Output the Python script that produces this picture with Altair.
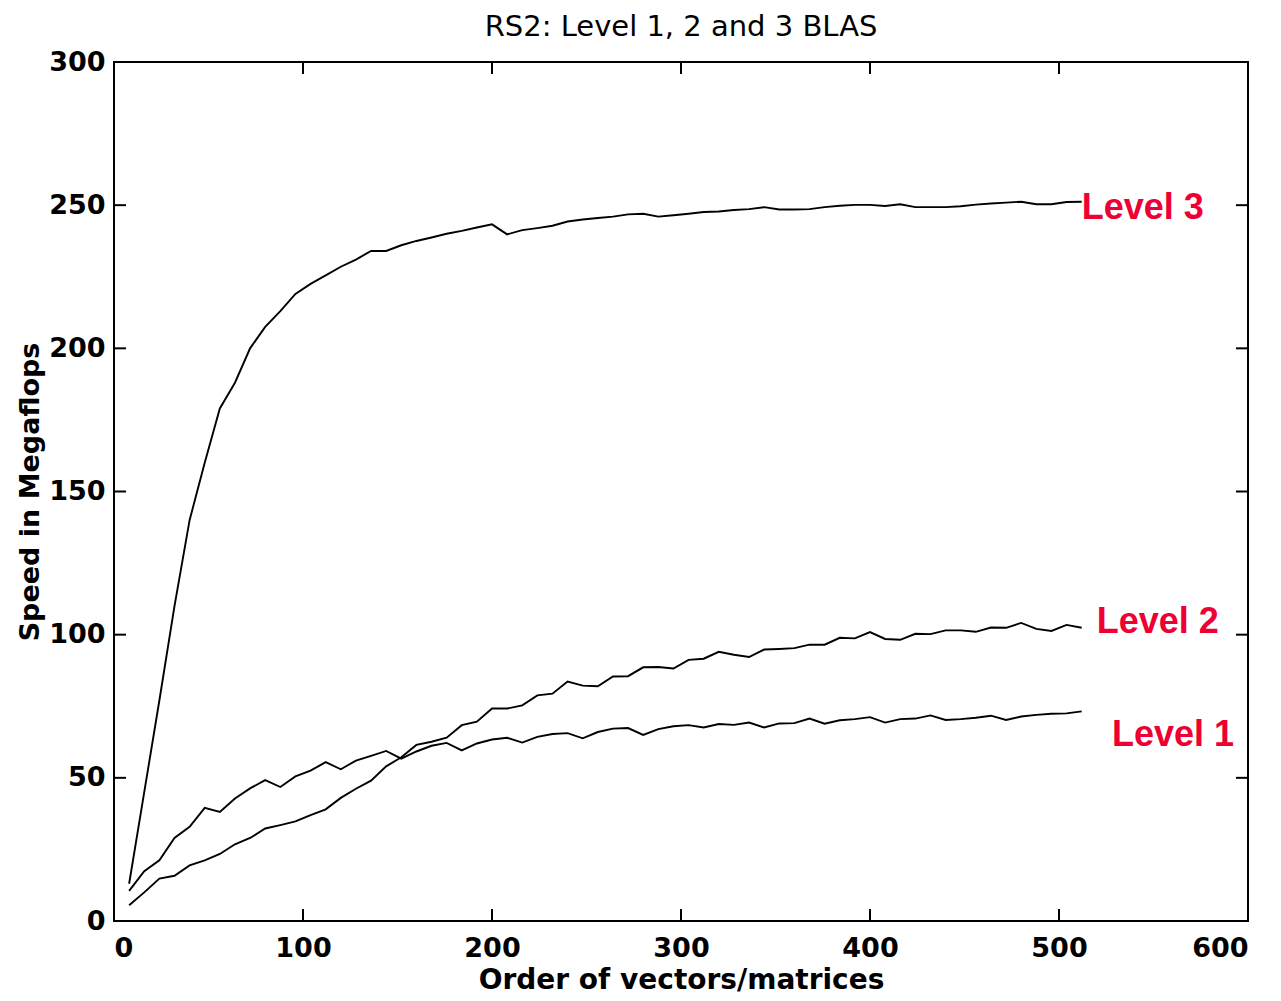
import altair as alt
import pandas as pd

# ---- data ----
n_values = list(range(8, 513, 8))

level1 = [10.5, 17.4, 21.2, 29.0, 32.9, 39.5, 38.1, 42.8, 46.3, 49.2, 46.8, 50.5, 52.5, 55.5, 53.0, 56.0,
          57.7, 59.4, 56.7, 59.2, 61.2, 62.2, 59.6, 62.0, 63.4, 64.0, 62.3, 64.3, 65.3, 65.6, 63.8, 66.0,
          67.2, 67.4, 65.0, 67.0, 68.0, 68.4, 67.6, 68.8, 68.5, 69.3, 67.6, 69.0, 69.1, 70.7, 68.9, 70.1,
          70.5, 71.2, 69.3, 70.5, 70.7, 71.8, 70.2, 70.5, 71.0, 71.7, 70.2, 71.4, 72.0, 72.4, 72.5, 73.2]

level2 = [5.5, 10.0, 14.8, 15.8, 19.4, 21.2, 23.4, 26.8, 29.0, 32.3, 33.5, 34.8, 37.0, 39.0, 43.0, 46.2,
          49.0, 54.0, 57.2, 61.5, 62.6, 64.0, 68.4, 69.6, 74.2, 74.2, 75.3, 78.8, 79.4, 83.6, 82.2, 82.0,
          85.4, 85.5, 88.6, 88.7, 88.2, 91.2, 91.6, 94.0, 93.0, 92.2, 94.8, 95.0, 95.3, 96.5, 96.5, 98.9,
          98.7, 100.9, 98.5, 98.2, 100.3, 100.2, 101.5, 101.5, 101.0, 102.5, 102.4, 104.1, 102.0, 101.3, 103.4, 102.4]

level3 = [13.0, 45.0, 77.0, 110.0, 140.0, 160.0, 179.0, 188.0, 200.0, 207.5, 213.0, 219.0, 222.5, 225.5, 228.5, 231.0,
          234.0, 234.0, 236.0, 237.5, 238.7, 240.0, 241.0, 242.2, 243.3, 239.8, 241.3, 242.0, 242.8, 244.3, 245.0, 245.5,
          246.0, 246.8, 247.0, 246.0, 246.5, 247.0, 247.6, 247.8, 248.3, 248.6, 249.3, 248.5, 248.5, 248.6, 249.3, 249.8,
          250.1, 250.1, 249.7, 250.3, 249.3, 249.3, 249.3, 249.6, 250.2, 250.6, 250.9, 251.2, 250.3, 250.3, 251.1, 251.2]

series_names = ["Level 1", "Level 2", "Level 3"]

label_text = ["Level 3", "Level 2", "Level 1"]
label_n = [512, 520, 528]
label_speed = [249, 104.3, 65]

x_ticks = [0, 100, 200, 300, 400, 500, 600]
y_ticks = [0, 50, 100, 150, 200, 250, 300]

# ---- tables ----
rows = []
for name, vals in zip(series_names, [level1, level2, level3]):
    for n, v in zip(n_values, vals):
        rows.append({"n": n, "speed": v, "series": name})
df = pd.DataFrame(rows)
labels_df = pd.DataFrame({"text": label_text, "n": label_n, "speed": label_speed})
xt_df = pd.DataFrame({"t": x_ticks})
yt_df = pd.DataFrame({"t": y_ticks})

W, H = 1134, 859
FONT = "DejaVu Sans"

xscale = alt.Scale(domain=[0, 600], nice=False, zero=False)
yscale = alt.Scale(domain=[0, 300], nice=False, zero=False)

lines = alt.Chart(df).mark_line(color="black", strokeWidth=1.9).encode(
    x=alt.X("n:Q", scale=xscale, axis=alt.Axis(
        title="Order of vectors/matrices", values=x_ticks, format="d", grid=False,
        tickSize=0, domain=False, labelPadding=14, labelFontSize=27, labelFontWeight="bold",
        labelFont=FONT, labelColor="black", titleFont=FONT, titleFontSize=28,
        titleFontWeight="bold", titleColor="black", titlePadding=5)),
    y=alt.Y("speed:Q", scale=yscale, axis=alt.Axis(
        title="Speed in Megaflops", values=y_ticks, format="d", grid=False,
        tickSize=0, domain=False, labelPadding=9, labelFontSize=27, labelFontWeight="bold",
        labelFont=FONT, labelColor="black", titleFont=FONT, titleFontSize=27,
        titleFontWeight="bold", titleColor="black", titlePadding=4)),
    detail="series:N",
)

texts = alt.Chart(labels_df).mark_text(
    align="left", baseline="middle", fontSize=36, fontWeight="bold", font="Liberation Sans",
    color="#ee0033"
).encode(
    x=alt.X("n:Q", scale=xscale),
    y=alt.Y("speed:Q", scale=yscale),
    text="text:N",
)

TL = 12
tick_bottom = alt.Chart(xt_df).mark_rule(color="black", strokeWidth=2).encode(
    x=alt.X("t:Q", scale=xscale), y=alt.value(H), y2=alt.value(H - TL))
tick_top = alt.Chart(xt_df).mark_rule(color="black", strokeWidth=2).encode(
    x=alt.X("t:Q", scale=xscale), y=alt.value(0), y2=alt.value(TL))
tick_left = alt.Chart(yt_df).mark_rule(color="black", strokeWidth=2).encode(
    y=alt.Y("t:Q", scale=yscale), x=alt.value(0), x2=alt.value(TL))
tick_right = alt.Chart(yt_df).mark_rule(color="black", strokeWidth=2).encode(
    y=alt.Y("t:Q", scale=yscale), x=alt.value(W), x2=alt.value(W - TL))

chart = alt.layer(lines, texts, tick_bottom, tick_top, tick_left, tick_right).properties(
    width=W, height=H,
    title=alt.TitleParams("RS2: Level 1, 2 and 3 BLAS", font=FONT, fontSize=29,
                          fontWeight="normal", color="black", offset=6, anchor="middle"),
    autosize=alt.AutoSizeParams(type="none"),
    padding={"left": 106, "top": 54, "right": 25, "bottom": 80},
).configure(background="white").configure_view(stroke="black", strokeWidth=2)

chart.save("out.html", embed_options={"renderer": "svg", "actions": False})
